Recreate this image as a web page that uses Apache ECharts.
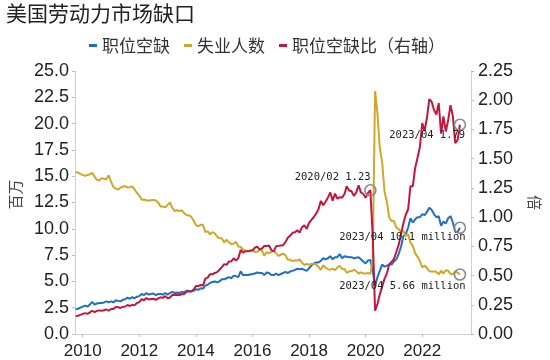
<!DOCTYPE html>
<html>
<head>
<meta charset="utf-8">
<script src="https://cdn.jsdelivr.net/npm/echarts@6/dist/echarts.min.js"></script>
<style>html,body{margin:0;padding:0;background:#fff;}#chart{width:550px;height:360px;}</style>
</head>
<body>
<div id="chart"></div>
<script>
// Monthly data, 2009/09 .. 2023/04 (plotted at month end)
const startYear = 2009, startMonth = 9;
const xTicks = [2010, 2012, 2014, 2016, 2018, 2020, 2022];

// 职位空缺 (million)
const openings = [
  2.35, 2.40, 2.50, 2.60,
  2.70, 2.60, 2.80, 3.05, 2.80, 2.90, 2.95, 2.95, 3.00, 3.10, 3.00, 3.10,
  3.00, 3.20, 3.15, 3.10, 3.25, 3.30, 3.45, 3.35, 3.50, 3.40, 3.55, 3.60,
  3.80, 3.70, 3.90, 3.75, 3.80, 3.85, 3.70, 3.80, 3.80, 3.75, 3.90, 3.75,
  3.90, 4.00, 3.90, 3.95, 3.90, 4.00, 3.95, 4.10, 4.10, 4.05, 4.10, 4.25,
  4.20, 4.35, 4.30, 4.60, 4.70, 4.85, 4.95, 5.00, 4.90, 5.00, 5.20, 5.20,
  5.30, 5.40, 5.30, 5.55, 5.50, 5.40, 5.95, 5.60, 5.60, 5.60, 5.65, 5.70,
  5.75, 5.85, 5.80, 5.80, 5.60, 5.85, 5.80, 5.60, 5.60, 5.75, 5.60, 5.70,
  5.80, 5.90, 5.80, 5.95, 6.00, 6.10, 6.20, 6.15, 6.20, 6.10, 6.00, 6.25,
  6.50, 6.70, 6.80, 6.80, 6.95, 7.20, 7.10, 7.20, 7.40, 7.10, 7.30, 7.30,
  7.60, 7.20, 7.40, 7.35, 7.30, 7.30, 7.20, 7.25, 7.30, 7.10, 6.90, 6.70,
  7.00, 7.04, 6.00, 4.60, 5.40, 6.00, 6.60, 6.40, 6.50, 6.60, 6.60, 6.90,
  7.10, 7.60, 8.30, 9.30, 9.50, 10.10, 11.00, 10.60, 10.90, 11.10, 11.10, 11.40,
  11.30, 11.60, 12.00, 11.80, 11.40, 11.10, 11.20, 10.30, 10.70, 10.50, 11.00, 11.20,
  10.60, 9.70, 9.70, 10.10
];

// 失业人数 (million)
const unemployed = [
  15.40, 15.35, 15.22, 15.10,
  15.05, 15.11, 15.17, 15.33, 14.96, 14.65, 14.60, 14.82, 14.75, 14.70, 15.08, 14.47,
  13.99, 13.82, 13.73, 13.91, 14.00, 14.06, 13.92, 13.96, 14.03, 13.74, 13.40, 13.18,
  12.75, 12.79, 12.70, 12.69, 12.72, 12.75, 12.69, 12.50, 12.11, 12.12, 12.04, 12.27,
  12.50, 11.97, 11.69, 11.76, 11.69, 11.76, 11.50, 11.32, 11.27, 11.15, 10.79, 10.37,
  10.24, 10.38, 10.38, 9.70, 9.76, 9.48, 9.68, 9.57, 9.26, 9.09, 9.09, 8.69,
  8.97, 8.71, 8.55, 8.57, 8.76, 8.32, 8.27, 8.03, 7.92, 7.92, 7.94, 7.98,
  7.79, 7.82, 8.01, 7.93, 7.44, 7.78, 7.66, 7.80, 7.92, 7.67, 7.43, 7.53,
  7.63, 7.50, 7.05, 7.07, 6.93, 7.00, 6.98, 7.09, 6.78, 6.55, 6.67, 6.58,
  6.65, 6.69, 6.60, 6.37, 6.10, 6.54, 6.28, 6.17, 6.11, 6.22, 6.08, 6.31,
  6.49, 6.18, 6.18, 5.82, 5.95, 5.98, 6.09, 5.98, 5.74, 5.86, 5.76, 5.75,
  5.80, 5.72, 7.15, 23.08, 20.99, 17.70, 16.31, 13.55, 12.58, 11.06, 10.74, 10.74,
  10.13, 9.97, 9.71, 9.81, 9.31, 9.48, 8.70, 8.38, 7.67, 7.36, 6.94, 6.32,
  6.51, 6.27, 5.97, 5.94, 5.95, 5.91, 5.67, 6.01, 5.75, 6.06, 6.01, 5.72,
  5.69, 5.94, 5.84, 5.66
];

// 职位空缺比 (ratio, right axis)
const ratio = [
  0.153, 0.156, 0.164, 0.172,
  0.179, 0.172, 0.185, 0.199, 0.187, 0.198, 0.202, 0.199, 0.203, 0.211, 0.199, 0.214,
  0.214, 0.232, 0.229, 0.223, 0.232, 0.235, 0.248, 0.240, 0.249, 0.247, 0.265, 0.273,
  0.298, 0.289, 0.307, 0.296, 0.299, 0.302, 0.292, 0.304, 0.314, 0.309, 0.324, 0.306,
  0.312, 0.334, 0.334, 0.336, 0.334, 0.340, 0.343, 0.362, 0.364, 0.363, 0.380, 0.410,
  0.410, 0.419, 0.414, 0.474, 0.482, 0.512, 0.511, 0.522, 0.529, 0.550, 0.572, 0.598,
  0.591, 0.620, 0.620, 0.648, 0.628, 0.649, 0.719, 0.697, 0.707, 0.707, 0.712, 0.714,
  0.738, 0.748, 0.724, 0.731, 0.753, 0.752, 0.757, 0.718, 0.707, 0.750, 0.754, 0.757,
  0.760, 0.787, 0.823, 0.842, 0.866, 0.871, 0.888, 0.867, 0.914, 0.931, 0.900, 0.950,
  0.977, 1.001, 1.030, 1.068, 1.139, 1.101, 1.131, 1.167, 1.211, 1.141, 1.201, 1.157,
  1.171, 1.165, 1.197, 1.263, 1.227, 1.221, 1.182, 1.212, 1.272, 1.212, 1.198, 1.165,
  1.207, 1.23, 0.839, 0.199, 0.257, 0.339, 0.405, 0.472, 0.517, 0.597, 0.615, 0.642,
  0.701, 0.762, 0.855, 0.948, 1.020, 1.065, 1.264, 1.265, 1.421, 1.508, 1.599, 1.804,
  1.736, 1.850, 2.010, 1.987, 1.916, 1.878, 1.975, 1.714, 1.861, 1.733, 1.830, 1.958,
  1.863, 1.633, 1.661, 1.79
];

const seriesNames = ['职位空缺', '失业人数', '职位空缺比（右轴）'];
const colors = ['#1f6fc4', '#d2a626', '#c4163a'];

// month labels and decimal-year positions (month end)
const labels = [], xs = [];
for (let i = 0; i < openings.length; i++) {
  const m0 = startMonth - 1 + i;
  const y = startYear + Math.floor(m0 / 12), m = m0 % 12 + 1;
  labels.push(y + '/' + String(m).padStart(2, '0'));
  xs.push(y + m / 12);
}
const pairs = arr => arr.map((v, i) => [xs[i], v]);
const idx = lab => labels.indexOf(lab);

const annFont = {fontFamily: '"DejaVu Sans Mono", monospace', fontSize: 10.5, color: '#222'};
function mark(arr, lab, text, pos) {
  const i = idx(lab);
  return {
    coord: [xs[i], arr[i]],
    label: Object.assign({show: true, formatter: text, position: pos, align: 'right', verticalAlign: 'middle'}, annFont)
  };
}
const mpBase = {
  symbol: 'circle', symbolSize: 11, silent: true, animation: false,
  itemStyle: {color: 'rgba(0,0,0,0)', borderColor: '#8a8a8a', borderWidth: 1.6}
};

const last = openings.length - 1;
const chart = echarts.init(document.getElementById('chart'));
chart.setOption({
  animation: false,
  backgroundColor: '#fff',
  title: {
    text: '美国劳动力市场缺口', left: 1, top: -2,
    textStyle: {fontFamily: '"Noto Sans CJK SC"', fontSize: 21, fontWeight: 'normal', color: '#222'}
  },
  legend: {
    left: 84, top: 32, itemWidth: 8, itemHeight: 3, itemGap: 14, icon: 'rect',
    textStyle: {fontFamily: '"Noto Sans CJK SC"', fontSize: 17, color: '#333'},
    data: seriesNames
  },
  grid: {left: 72, right: 72, top: 71, bottom: 26, containLabel: false},
  xAxis: {
    type: 'value', min: 2009.724, max: 2023.724,
    axisLine: {show: true, lineStyle: {color: '#d0d0d0'}},
    axisTick: {show: true, customValues: xTicks, length: 3, lineStyle: {color: '#bbb'}},
    axisLabel: {customValues: xTicks, formatter: v => String(v), fontFamily: '"Liberation Sans", Arial', fontSize: 17, color: '#222', margin: 9},
    splitLine: {show: false}
  },
  yAxis: [{
    type: 'value', min: 0, max: 25, interval: 2.5,
    name: '百万', nameLocation: 'middle', nameGap: 50, nameRotate: 90,
    nameTextStyle: {fontFamily: '"Noto Sans CJK SC"', fontSize: 15, color: '#444', padding: [0, 0, 0, 16]},
    axisLine: {show: true, lineStyle: {color: '#d0d0d0'}},
    axisTick: {show: true, length: 3, lineStyle: {color: '#bbb'}},
    axisLabel: {formatter: v => v.toFixed(1), fontFamily: '"Liberation Sans", Arial', fontSize: 18, color: '#222', margin: 6},
    splitLine: {show: false}
  }, {
    type: 'value', min: 0, max: 2.25, interval: 0.25, position: 'right',
    name: '倍', nameLocation: 'middle', nameGap: 56, nameRotate: -90,
    nameTextStyle: {fontFamily: '"Noto Sans CJK SC"', fontSize: 15, color: '#444'},
    axisLine: {show: true, lineStyle: {color: '#d0d0d0'}},
    axisTick: {show: true, length: 3, lineStyle: {color: '#bbb'}},
    axisLabel: {formatter: v => v.toFixed(2), fontFamily: '"Liberation Sans", Arial', fontSize: 18, color: '#222', margin: 7},
    splitLine: {show: false}
  }],
  series: [{
    name: seriesNames[0], type: 'line', yAxisIndex: 0, data: pairs(openings),
    showSymbol: false, lineStyle: {width: 2, color: colors[0]}, itemStyle: {color: colors[0]},
    markPoint: Object.assign({}, mpBase, {data: [
      mark(openings, labels[last], labels[last] + ' ' + openings[last].toFixed(1) + ' million', [12, 16])
    ]})
  }, {
    name: seriesNames[1], type: 'line', yAxisIndex: 0, data: pairs(unemployed),
    showSymbol: false, lineStyle: {width: 2, color: colors[1]}, itemStyle: {color: colors[1]},
    markPoint: Object.assign({}, mpBase, {data: [
      mark(unemployed, labels[last], labels[last] + ' ' + unemployed[last].toFixed(2) + ' million', [12, 18.5])
    ]})
  }, {
    name: seriesNames[2], type: 'line', yAxisIndex: 1, data: pairs(ratio),
    showSymbol: false, lineStyle: {width: 2, color: colors[2]}, itemStyle: {color: colors[2]},
    markPoint: Object.assign({}, mpBase, {data: [
      mark(ratio, '2020/02', '2020/02 ' + ratio[idx('2020/02')].toFixed(2), [6.5, -7]),
      mark(ratio, labels[last], labels[last] + ' ' + ratio[last].toFixed(2), [11.5, 17])
    ]})
  }]
});
</script>
</body>
</html>
